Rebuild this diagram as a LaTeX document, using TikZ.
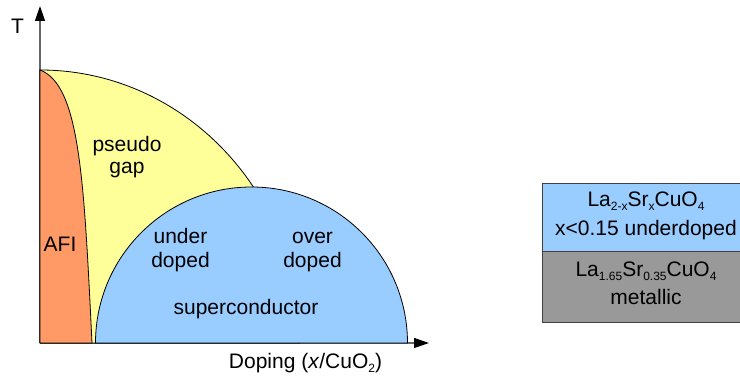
\documentclass[tikz,border=0pt]{standalone}
\usepackage{fontspec}
\setmainfont{Liberation Sans}
\usetikzlibrary{arrows.meta}
\definecolor{afi}{HTML}{FF9966}
\definecolor{pg}{HTML}{FFFF99}
\definecolor{scb}{HTML}{99CCFF}
\definecolor{met}{HTML}{999999}
\newcommand{\lowsub}[1]{\raisebox{-4pt}{\fontsize{12}{12}\selectfont #1}}
\begin{document}
\begin{tikzpicture}[x=1pt,y=-1pt,
  region/.style={draw=black, line width=0.8pt},
  axis/.style={draw=black!60, line width=1.3pt, -{Triangle[length=15pt,width=10pt,color=black]}},
  lbl/.style={font=\fontsize{21}{25}\selectfont, inner sep=0pt, anchor=base, text=black},
  boxst/.style={draw=black!75, line width=0.8pt, minimum width=212pt, inner sep=0pt, anchor=north west}]
\useasboundingbox (0,0) rectangle (740,379);
% axes
\coordinate (O) at (40,343);
\coordinate (ytip) at (40,6);
\coordinate (xtip) at (429,343);
\draw[axis] (O) -- (ytip);
\draw[axis] (O) -- (xtip);
% regions
\draw[region, fill=pg] (40,343) -- (40,70) arc[start angle=-90, end angle=0, x radius=260, y radius=273] -- cycle;
\draw[region, fill=afi] (40,343) -- (40,70) .. controls (80,85) and (84,180) .. (92,343) -- cycle;
\draw[region, fill=scb] (95.5,343) arc[start angle=180, end angle=360, radius=156] -- cycle;
% labels
\node[lbl] (T) at (17.5,34) {T};
\node[lbl] (pseudo) at (127,151.5) {pseudo};
\node[lbl] (gap) at (127,174) {gap};
\node[lbl] (afilbl) at (60,251.5) {AFI};
\node[lbl] (under) at (180.5,244) {under};
\node[lbl] (udoped) at (180.5,267.5) {doped};
\node[lbl] (over) at (312.5,244) {over};
\node[lbl] (odoped) at (312.5,267.5) {doped};
\node[lbl] (sclbl) at (246,315) {superconductor};
\node[lbl] (doping) at (305.5,369) {Doping (\textit{x}/CuO\lowsub{2})};
% boxes
\node[boxst, fill=scb, minimum height=68pt] (lsco) at (542,183) {};
\node[boxst, fill=met, minimum height=71pt] (metal) at (542,251) {};
\node[lbl] (f1) at (646,207) {La\lowsub{2-x}Sr\lowsub{x}CuO\lowsub{4}};
\node[lbl] (f1b) at (646,236) {x<0.15 underdoped};
\node[lbl] (f2) at (646,276.5) {La\lowsub{1.65}Sr\lowsub{0.35}CuO\lowsub{4}};
\node[lbl] (f2b) at (646,305) {metallic};
\end{tikzpicture}
\end{document}
